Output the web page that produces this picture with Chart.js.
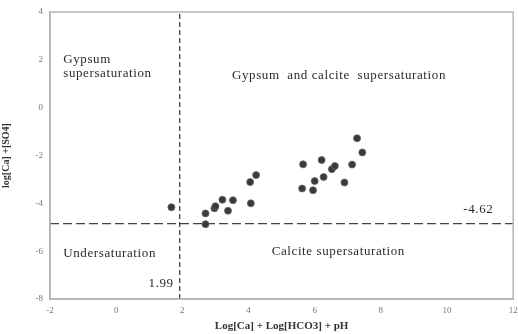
<!DOCTYPE html>
<html>
<head>
<meta charset="utf-8">
<script src="https://cdn.jsdelivr.net/npm/chart.js@4.4.1/dist/chart.umd.min.js"></script>
<style>
  html, body { margin: 0; padding: 0; background: #fff; }
  #wrap { width: 518px; height: 334px; }
</style>
</head>
<body>
<div id="wrap"><canvas id="chart"></canvas></div>
<script>
// x = Log[Ca] + Log[HCO3] + pH, y = log[Ca] + [SO4]
const sampleX = [1.67, 2.70, 2.70, 2.97, 3.00, 3.21, 3.38, 3.53, 4.05, 4.23, 4.07,
    5.65, 5.62, 5.95, 6.00, 6.21, 6.27, 6.52, 6.61, 6.90, 7.13, 7.28, 7.44];
const sampleY = [-4.16, -4.42, -4.87, -4.21, -4.12, -3.85, -4.31, -3.87, -3.11, -2.82, -4.00,
    -2.37, -3.38, -3.45, -3.07, -2.19, -2.90, -2.57, -2.44, -3.13, -2.38, -1.28, -1.87];

// dashed limits (line positions as drawn in the picture) and their printed values
const xThreshold = 1.92;
const yThreshold = -4.85;
const xThresholdLabel = '1.99';
const yThresholdLabel = '-4.62';
const xTicks = [-2, 0, 2, 4, 6, 8, 10, 12];
const yTicks = [4, 2, 0, -2, -4, -6, -8];

const points = sampleX.map((x, i) => ({ x: x, y: sampleY[i] }));

const regionLabels = [
    { text: ['Gypsum', 'supersaturation'], x: -1.6, y: 2.0 },
    { text: ['Gypsum  and calcite  supersaturation'], x: 3.5, y: 1.35 },
    { text: ['Undersaturation'], x: -1.6, y: -6.1 },
    { text: ['Calcite supersaturation'], x: 4.7, y: -6.0 }
];

const serif = '"Liberation Serif", "DejaVu Serif", serif';

const extras = {
    id: 'extras',
    afterDatasetsDraw(chart) {
        const ctx = chart.ctx;
        const a = chart.chartArea;
        const xs = chart.scales.x, ys = chart.scales.y;
        ctx.save();
        // box round the plot
        ctx.strokeStyle = '#b4b4b4';
        ctx.lineWidth = 1.5;
        ctx.strokeRect(a.left, a.top, a.right - a.left, a.bottom - a.top);

        ctx.fillStyle = '#2a2a2a';
        ctx.font = '13px ' + serif;
        ctx.letterSpacing = '0.6px';
        ctx.textBaseline = 'middle';
        ctx.textAlign = 'left';
        regionLabels.forEach(l => {
            l.text.forEach((t, i) => {
                ctx.fillText(t, xs.getPixelForValue(l.x), ys.getPixelForValue(l.y) + i * 14);
            });
        });
        // threshold values
        ctx.textAlign = 'right';
        ctx.fillText(xThresholdLabel, xs.getPixelForValue(xThreshold) - 6, ys.getPixelForValue(-7.35));
        ctx.fillText(yThresholdLabel, xs.getPixelForValue(11.4), ys.getPixelForValue(yThreshold) - 14);
        ctx.restore();
    }
};

new Chart(document.getElementById('chart'), {
    type: 'scatter',
    data: {
        datasets: [
            {
                data: points,
                pointStyle: 'circle',
                pointRadius: 3.5,
                backgroundColor: '#3a3a3a',
                borderColor: '#666',
                borderWidth: 0.8
            },
            {
                type: 'line',
                data: [{ x: xThreshold, y: -8 }, { x: xThreshold, y: 4 }],
                borderColor: '#333',
                borderWidth: 1.2,
                borderDash: [5, 3],
                pointRadius: 0
            },
            {
                type: 'line',
                data: [{ x: -2, y: yThreshold }, { x: 12, y: yThreshold }],
                borderColor: '#444',
                borderWidth: 1.2,
                borderDash: [9, 4],
                pointRadius: 0
            }
        ]
    },
    options: {
        responsive: true,
        maintainAspectRatio: false,
        animation: false,
        layout: { padding: { top: 12, right: 2, left: 0, bottom: 0 } },
        plugins: { legend: { display: false }, tooltip: { enabled: false } },
        scales: {
            x: {
                type: 'linear',
                min: -2, max: 12,
                afterBuildTicks: s => { s.ticks = xTicks.map(v => ({ value: v })); },
                afterFit: s => { s.height = 35; s.paddingLeft = 0; s.paddingRight = 0; },
                grid: { display: false, drawTicks: true, tickLength: 4, tickColor: '#bbb' },
                border: { color: '#b4b4b4', width: 1.5 },
                ticks: { color: '#777', padding: 2, font: { family: serif, size: 9 } },
                title: {
                    display: true,
                    text: 'Log[Ca] + Log[HCO3] + pH',
                    color: '#333',
                    padding: { top: 0, bottom: 1 },
                    font: { family: serif, size: 11, weight: 'bold' }
                }
            },
            y: {
                type: 'linear',
                min: -8, max: 4,
                afterBuildTicks: s => { s.ticks = yTicks.map(v => ({ value: v })); },
                afterFit: s => { s.width = 50; },
                grid: { display: false, drawTicks: true, tickLength: 4, tickColor: '#bbb' },
                border: { color: '#b4b4b4', width: 1.5 },
                ticks: { color: '#777', padding: 3, font: { family: serif, size: 9 } },
                title: {
                    display: true,
                    text: 'log[Ca] +[SO4]',
                    color: '#333',
                    padding: { top: 0, bottom: 6 },
                    font: { family: serif, size: 10, weight: 'bold' }
                }
            }
        }
    },
    plugins: [extras]
});
</script>
</body>
</html>
